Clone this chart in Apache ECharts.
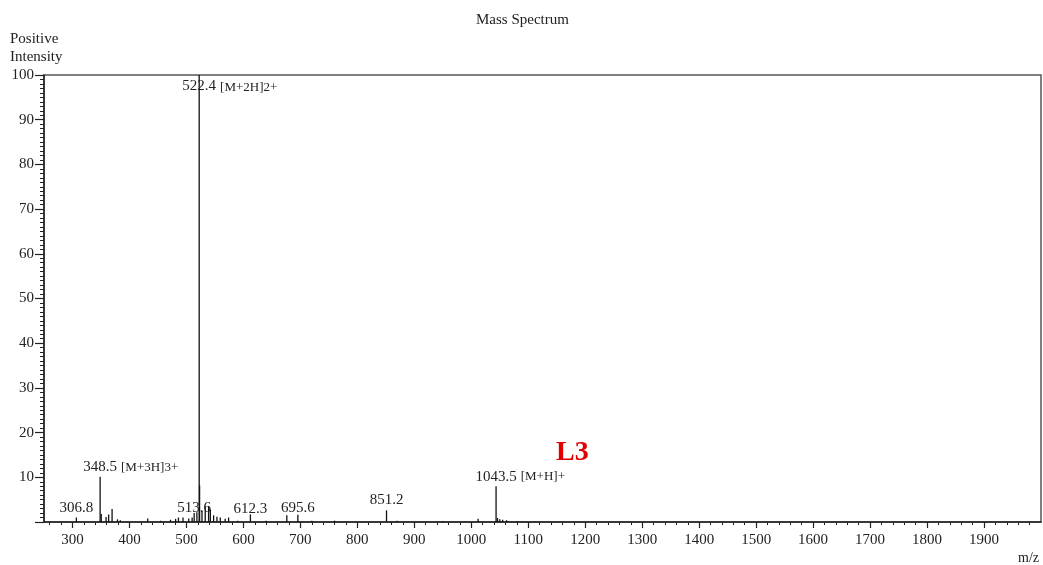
<!DOCTYPE html>
<html>
<head>
<meta charset="utf-8">
<script src="https://cdn.jsdelivr.net/npm/echarts@6/dist/echarts.min.js"></script>
<style>
html,body{margin:0;padding:0;background:#fff;}
#chart{width:1043px;height:565px;}
</style>
</head>
<body>
<div id="chart"></div>
<script>
// ---- data ----
const peakMz = [306.8, 348.5, 350.5, 359.0, 363.5, 369.5, 379.0, 384.0, 432.0, 455.0, 472.0, 481.0, 486.0, 494.0, 504.0, 510.0,
  513.6, 518.4, 522.4, 523.1, 527.3, 533.0, 538.9, 542.0, 547.7, 553.6, 559.4, 568.0, 574.0, 590.0, 612.3, 640.0,
  676.2, 695.6, 720.0, 760.0, 851.2, 870.0, 950.0, 1012.0, 1043.5, 1046.0, 1050.0, 1055.0, 1062.0, 1080.0];
const peakIntensity = [1.0, 10.1, 1.8, 1.1, 1.7, 2.9, 0.6, 0.4, 0.8, 0.3, 0.5, 0.7, 1.0, 1.0, 0.8, 1.0,
  2.0, 2.2, 100, 8.2, 2.5, 3.5, 3.6, 2.8, 1.5, 1.2, 1.0, 0.7, 1.0, 0.3, 1.7, 0.3,
  1.5, 1.6, 0.3, 0.3, 2.6, 0.3, 0.2, 0.7, 8.0, 0.9, 0.6, 0.5, 0.4, 0.2];
const labeledMz = [306.8, 348.5, 513.6, 522.4, 612.3, 695.6, 851.2, 1043.5];
const labelNotes = ['', '[M+3H]3+', '', '[M+2H]2+', '', '', '', '[M+H]+'];
const xTickLabels = [300, 400, 500, 600, 700, 800, 900, 1000, 1100, 1200, 1300, 1400, 1500, 1600, 1700, 1800, 1900];
const yTickLabels = [10, 20, 30, 40, 50, 60, 70, 80, 90, 100];

// ---- styles ----
const labelDy = [0, 0, 5, 0, 4, 3, -1, 0];
const FONT = '"Liberation Serif", "Times New Roman", serif';
const numFont = '15px ' + FONT;
const noteFont = '13px ' + FONT;
const textColor = '#222';

const measureCtx = document.createElement('canvas').getContext('2d');
function textWidth(t, f) { measureCtx.font = f; return measureCtx.measureText(t).width; }

const minorTicks = [];
for (let v = 260; v < 2000; v += 20) { if (v % 100 !== 0) minorTicks.push(v); }

const data = peakMz.map((m, i) => [m, peakIntensity[i]]);

const chart = echarts.init(document.getElementById('chart'));
chart.setOption({
  animation: false,
  backgroundColor: '#fff',
  title: [
    { text: 'Mass Spectrum', left: 476, top: 13, padding: 0, textStyle: { fontFamily: FONT, fontSize: 15, fontWeight: 'normal', color: textColor } },
    { text: 'Positive\nIntensity', left: 10, top: 30, padding: 0, textStyle: { fontFamily: FONT, fontSize: 15, fontWeight: 'normal', color: textColor, lineHeight: 18 } },
    { text: 'm/z', left: 1018, top: 551, padding: 0, textStyle: { fontFamily: FONT, fontSize: 14, fontWeight: 'normal', color: textColor } },
    { text: 'L3', left: 556, top: 439, padding: 0, textStyle: { fontFamily: FONT, fontSize: 28, fontWeight: 'bold', color: '#e00000' } }
  ],
  grid: { left: 44, right: 2, top: 75, bottom: 43, show: true, borderColor: '#555', borderWidth: 1.5, backgroundColor: 'transparent' },
  xAxis: [
    {
      type: 'value', min: 250, max: 2000,
      axisLine: { show: true, onZero: false, lineStyle: { color: '#222', width: 1.5 } },
      axisTick: { show: true, customValues: xTickLabels, length: 6, lineStyle: { color: '#222', width: 1.2 } },
      axisLabel: { show: true, customValues: xTickLabels, margin: 11, fontFamily: FONT, fontSize: 15, color: textColor,
        formatter: v => String(v) },
      splitLine: { show: false }
    },
    {
      type: 'value', min: 250, max: 2000, position: 'bottom',
      axisLine: { show: false },
      axisTick: { show: true, customValues: minorTicks, length: 3, lineStyle: { color: '#222', width: 1 } },
      axisLabel: { show: false },
      splitLine: { show: false }
    }
  ],
  yAxis: {
    type: 'value', min: 0, max: 100, interval: 10,
    axisLine: { show: true, lineStyle: { color: '#222', width: 1.5 } },
    axisTick: { show: true, length: 9, lineStyle: { color: '#222', width: 1.2 } },
    minorTick: { show: true, splitNumber: 10, length: 4, lineStyle: { color: '#222', width: 1 } },
    axisLabel: { margin: 10, fontFamily: FONT, fontSize: 15, color: textColor,
      formatter: v => (yTickLabels.indexOf(v) >= 0 ? String(v) : '') },
    splitLine: { show: false }
  },
  series: [{
    type: 'custom',
    xAxisIndex: 0,
    yAxisIndex: 0,
    data: data,
    encode: { x: 0, y: 1 },
    renderItem: function (params, api) {
      const mz = api.value(0), h = api.value(1);
      const base = api.coord([mz, 0]);
      const top = api.coord([mz, h]);
      const children = [{
        type: 'line',
        shape: { x1: base[0], y1: base[1], x2: top[0], y2: top[1] },
        style: { stroke: '#111', lineWidth: 1.3 }
      }];
      const li = labeledMz.indexOf(mz);
      if (li >= 0) {
        const num = mz.toFixed(1);
        const gridTop = api.coord([mz, 100])[1];
        let ty, va;
        if (top[1] - 20 < gridTop) { ty = top[1] + 4; va = 'top'; }
        else { ty = top[1] - 2 + labelDy[li]; va = 'bottom'; }
        children.push({ type: 'text', z2: 10, style: { text: num, x: top[0], y: ty, align: 'center', verticalAlign: va, font: numFont, fill: textColor } });
        const note = labelNotes[li];
        if (note) {
          const w = textWidth(num, numFont);
          children.push({ type: 'text', z2: 10, style: { text: note, x: top[0] + w / 2 + 4, y: va === 'bottom' ? ty - 1 : ty + 2, align: 'left', verticalAlign: va, font: noteFont, fill: textColor } });
        }
      }
      return { type: 'group', children: children };
    }
  }]
});
</script>
</body>
</html>
